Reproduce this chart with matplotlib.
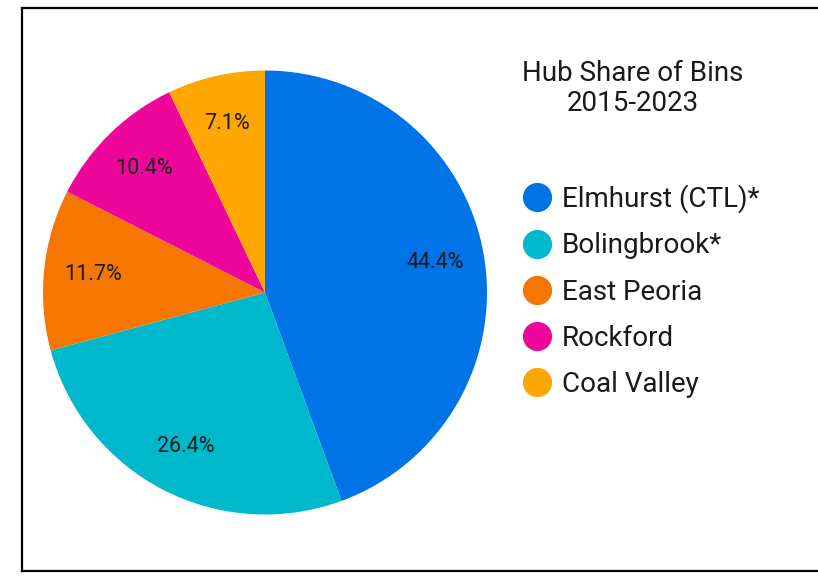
import matplotlib
matplotlib.use("Agg")
import matplotlib.pyplot as plt
from matplotlib.lines import Line2D

categories = ["Elmhurst (CTL)*", "Bolingbrook*", "East Peoria", "Rockford", "Coal Valley"]
shares = [44.4, 26.4, 11.7, 10.4, 7.1]
colors = ["#0073E6", "#00B8CC", "#F57600", "#EE0599", "#FFA600"]
title = "Hub Share of Bins\n2015-2023"

plt.rcParams['font.family'] = ['Roboto', 'DejaVu Sans']

W, H = 818, 581
fig = plt.figure(figsize=(W/100, H/100), dpi=100)

# frame
fx0, fy_top, fy_bot = 21.5/W, 1 - 7.5/H, 1 - 570.5/H
for xs, ys in [([fx0, fx0], [fy_bot, fy_top]), ([fx0, 1.01], [fy_top, fy_top]), ([fx0, 1.01], [fy_bot, fy_bot])]:
    fig.add_artist(Line2D(xs, ys, color="black", lw=1.6, transform=fig.transFigure))

cx, cy, r = 265, 292.5, 222
ax = fig.add_axes([(cx - r)/W, 1 - (cy + r)/H, 2*r/W, 2*r/H])
wedges, texts, autotexts = ax.pie(shares, colors=colors, startangle=90, counterclock=False,
                                  autopct='%1.1f%%', pctdistance=0.78,
                                  textprops=dict(fontsize=15.5, color="#1a1a1a"),
                                  wedgeprops=dict(linewidth=0))
ax.set_xlim(-1, 1)
ax.set_ylim(-1, 1)
ax.set_aspect('equal')
ax.axis('off')

fig.text(633/W, 1 - 88.5/H, title, ha='center', va='center', fontsize=20, color="#1a1a1a", linespacing=1.1)

handles = [Line2D([0], [0], marker='o', linestyle='none', markersize=20,
                  markerfacecolor=c, markeredgecolor=c) for c in colors]
fig.legend(handles, categories, loc='upper left', bbox_to_anchor=(522.8/W, 1 - 184.5/H),
           frameon=False, fontsize=20, labelspacing=0.69, handlelength=1.0,
           handletextpad=0.41, borderpad=0, borderaxespad=0, labelcolor="#1a1a1a")

fig.savefig("out.png", dpi=100)
